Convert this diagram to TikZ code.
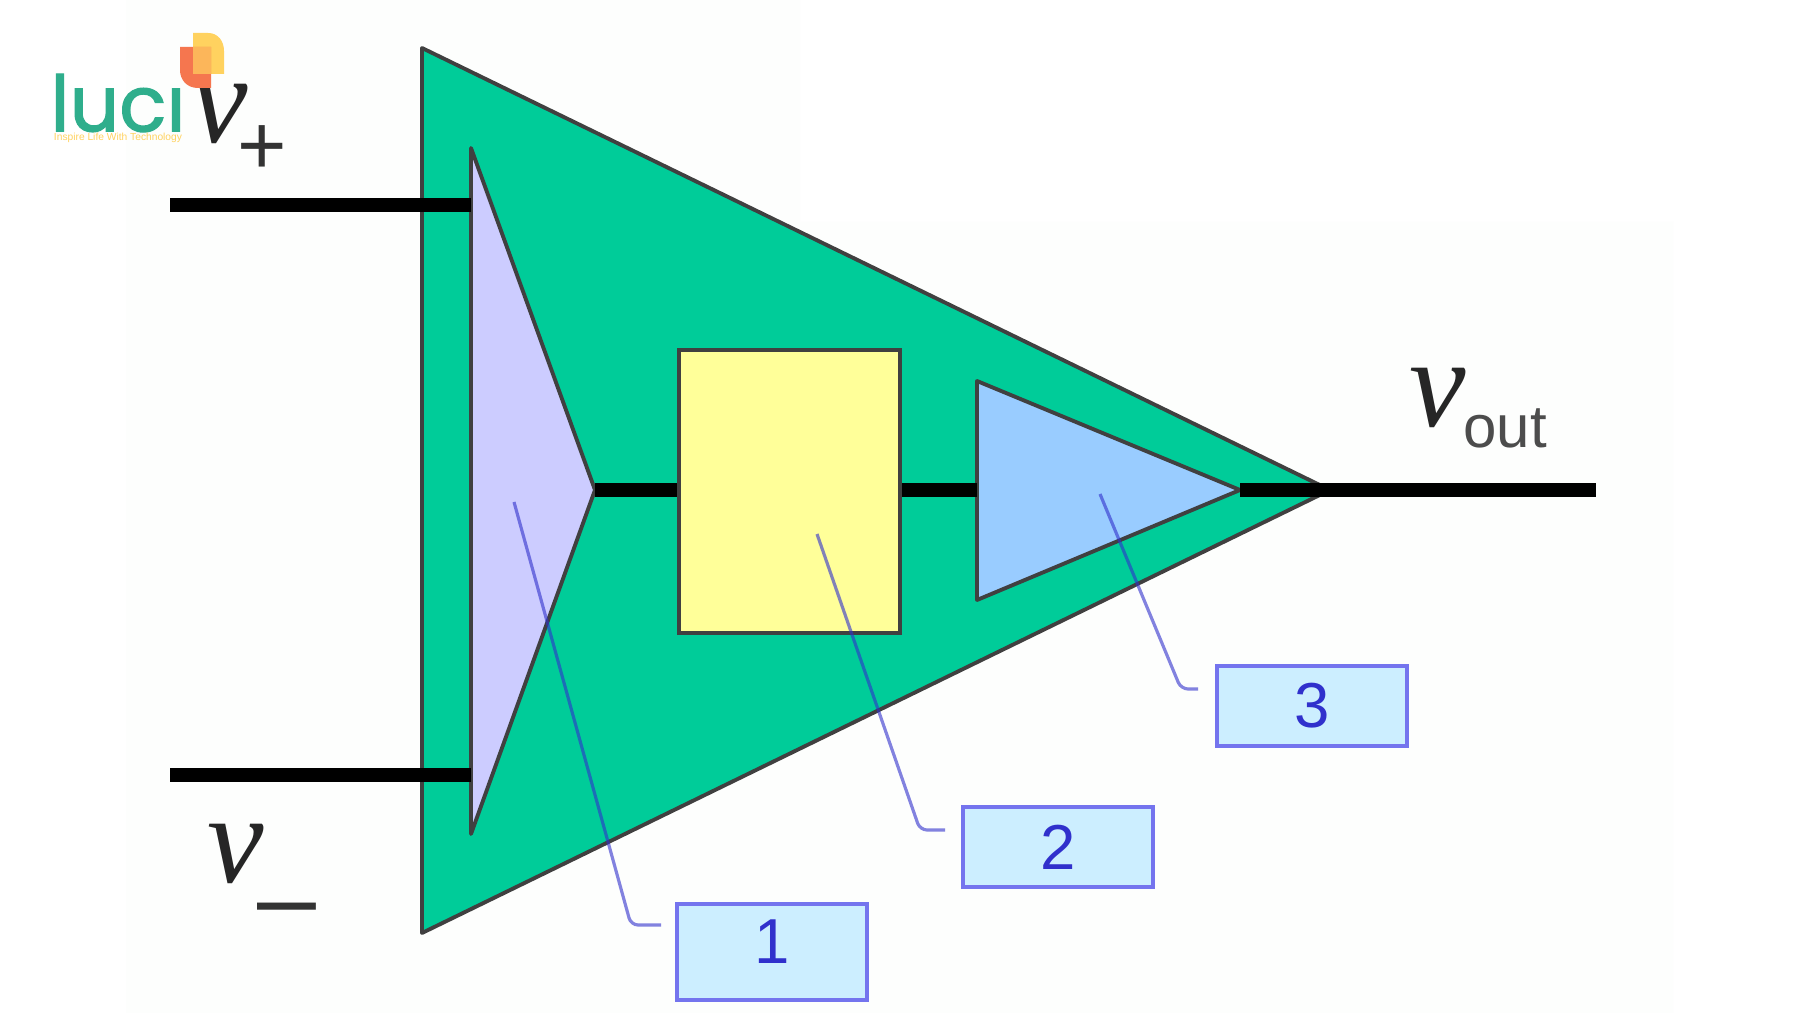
\documentclass[tikz,border=0pt]{standalone}
\usepackage{fontspec}
\setmainfont{Liberation Serif}
\setsansfont{Liberation Sans}
\newfontfamily\logofont[FakeBold=1.6]{Poppins}
\definecolor{ampgreen}{HTML}{00CC99}
\definecolor{stagelilac}{HTML}{CCCCFF}
\definecolor{stageyellow}{HTML}{FFFF99}
\definecolor{stageblue}{HTML}{99CCFF}
\definecolor{tagfill}{HTML}{CCEEFF}
\definecolor{tagline}{HTML}{7474EE}
\definecolor{tagtext}{HTML}{3030CC}
\definecolor{logoteal}{HTML}{2FAE8C}
\definecolor{logoyellow}{HTML}{FFD25F}
\definecolor{logoorange}{HTML}{F5764F}
\definecolor{paper}{HTML}{FDFEFD}
\tikzset{
  wire/.style={line width=3.8pt,black},
  outline/.style={draw=black!75,line width=1.1pt,line join=round},
  tagbox/.style={draw=tagline,fill=tagfill,line width=1.2pt,minimum width=1.9cm,minimum height=.8cm,inner sep=0pt,text=tagtext,font=\sffamily\fontsize{18bp}{20bp}\selectfont},
  leader/.style={draw=tagtext,draw opacity=.6,line width=.9pt,rounded corners=2pt},
  volt/.style={inner sep=0pt,font=\itshape\fontsize{36bp}{38bp}\selectfont,text=black!85},
  subs/.style={inner sep=0pt,text=black!80,font=\sffamily\fontsize{24bp}{26bp}\selectfont},
}
\begin{document}
\begin{tikzpicture}[x=.01cm,y=-.01cm]
\useasboundingbox (0,0) rectangle (1800,1013);
\fill[white] (0,0) rectangle (1800,1013);
\fill[paper] (126,0) -- (800,0) -- (800,222) -- (1673,222) -- (1673,1013) -- (126,1013) -- cycle;
% amplifier body
\coordinate (bodytop) at (422,48);
\coordinate (bodybot) at (422,933);
\coordinate (bodytip) at (1330,490);
\coordinate (inplus) at (170,205);
\coordinate (inminus) at (170,775);
\coordinate (outend) at (1596,490);
\coordinate (difftop) at (471,148);
\coordinate (diffbot) at (471,834);
\coordinate (difftip) at (595,490);
\coordinate (plusin) at (471,205);
\coordinate (minusin) at (471,775);
\coordinate (drvtop) at (977,381);
\coordinate (drvbot) at (977,600);
\coordinate (drvtip) at (1240,490);
\coordinate (drvin) at (977,490);
\fill[ampgreen,outline] (bodytop)--(bodytip)--(bodybot)--cycle;
\fill[stagelilac,outline] (difftop)--(difftip)--(diffbot)--cycle;
\fill[stageblue,outline] (drvtop)--(drvtip)--(drvbot)--cycle;
\node[draw=black!75,fill=stageyellow,line width=1.1pt,minimum width=2.21cm,minimum height=2.83cm,inner sep=0pt] (gain) at (789.5,491.5) {};
\draw[wire] (inplus)--(plusin);
\draw[wire] (inminus)--(minusin);
\draw[wire] (difftip)--(difftip-|gain.west);
\draw[wire] (drvin-|gain.east)--(drvin);
\draw[wire] (drvtip)--(outend);
% numbered tags
\node[tagbox,minimum height=.96cm] (tagone) at (772,952) {\raisebox{2mm}{1}};
\node[tagbox] (tagtwo) at (1058,847) {2};
\node[tagbox] (tagthree) at (1312,706) {3};
\coordinate (markone) at (514,502);
\coordinate (marktwo) at (817,534);
\coordinate (markthree) at (1100,494);
\coordinate (bendone) at (631,925);
\coordinate (bendtwo) at (920,830);
\coordinate (bendthree) at (1181,689);
\coordinate (endone) at (661,925);
\coordinate (endtwo) at (945,830);
\coordinate (endthree) at (1198,689);
\draw[leader] (markone)--(bendone)--(endone);
\draw[leader] (marktwo)--(bendtwo)--(endtwo);
\draw[leader] (markthree)--(bendthree)--(endthree);
% voltage labels
\node[volt] (vp) at (220,114) {v};
\node[subs] (vpsub) at (262,150) {+};
\node[volt] (vm) at (236,854) {v};
\node[subs] (vmsub) at (287,918) {\fontsize{30bp}{30bp}\selectfont\textendash};
\node[volt] (vo) at (1438,398) {v};
\node[inner sep=0pt,text=black!70,font=\sffamily\fontsize{17bp}{19bp}\selectfont] (vosub) at (1505,428) {out};
% logo
\node[inner sep=0pt,text=logoteal,font=\logofont\fontsize{22bp}{24bp}\selectfont] (logoname) at (118,103) {luc\i};
\node[inner sep=0pt,text=logoyellow,font=\sffamily\fontsize{2.9bp}{3bp}\selectfont] (logotag) at (118,138) {Inspire Life With Technology};
\fill[logoyellow] (193,33) -- (208,33) .. controls (218,33) and (224,41) .. (224,51) -- (224,74) -- (193,74) -- cycle;
\fill[logoorange] (180,47) -- (211,47) -- (211,88) -- (198,88) .. controls (187,88) and (180,80) .. (180,70) -- cycle;
\fill[logoyellow!70!logoorange] (193,47) -- (211,47) -- (211,74) -- (193,74) -- cycle;
\end{tikzpicture}
\end{document}
